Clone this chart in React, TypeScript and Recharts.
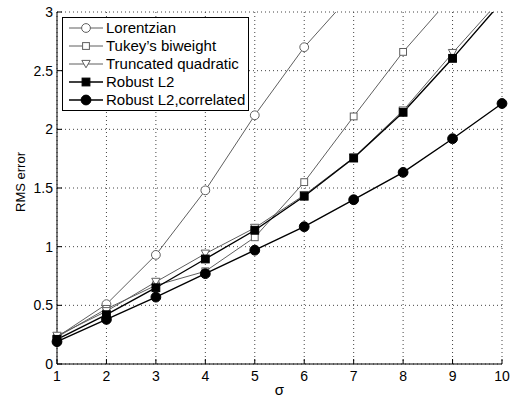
import React from 'react';
import { LineChart, Line, XAxis, YAxis, CartesianGrid, Legend } from 'recharts';

const sigma = [1, 2, 3, 4, 5, 6, 7, 8, 9, 10];
const lorentzian = [0.23, 0.51, 0.93, 1.48, 2.12, 2.7, 3.17, 3.65, 4.12, 4.6];
const tukey = [0.23, 0.47, 0.67, 0.79, 1.08, 1.55, 2.11, 2.66, 3.14, 3.62];
const truncated = [0.24, 0.45, 0.7, 0.94, 1.16, 1.44, 1.76, 2.16, 2.65, 3.12];
const robustL2 = [0.21, 0.42, 0.65, 0.895, 1.14, 1.43, 1.755, 2.145, 2.605, 3.09];
const correlated = [0.19, 0.38, 0.57, 0.77, 0.97, 1.17, 1.4, 1.633, 1.92, 2.22];
const yTicks = [0, 0.5, 1, 1.5, 2, 2.5, 3];

const GREY = '#5f5f5f';
const FONT = '"Liberation Sans", Arial, Helvetica, sans-serif';

type Shape = 'circleOpen' | 'squareOpen' | 'triangleDown' | 'squareFilled' | 'circleFilled';

const seriesDefs: { key: string; name: string; values: number[]; color: string; width: number; shape: Shape }[] = [
  { key: 'lorentzian', name: 'Lorentzian', values: lorentzian, color: GREY, width: 1, shape: 'circleOpen' },
  { key: 'tukey', name: 'Tukey\u2019s biweight', values: tukey, color: GREY, width: 1, shape: 'squareOpen' },
  { key: 'truncated', name: 'Truncated quadratic', values: truncated, color: GREY, width: 1, shape: 'triangleDown' },
  { key: 'robustL2', name: 'Robust L2', values: robustL2, color: '#000', width: 1.4, shape: 'squareFilled' },
  { key: 'correlated', name: 'Robust L2,correlated', values: correlated, color: '#000', width: 1.4, shape: 'circleFilled' },
];

const data = sigma.map((s, i) => {
  const row: Record<string, number> = { sigma: s };
  seriesDefs.forEach((d) => {
    row[d.key] = d.values[i];
  });
  return row;
});

function Marker({ shape, cx, cy, color }: { shape: Shape; cx: number; cy: number; color: string }) {
  if (cx == null || cy == null || isNaN(cx) || isNaN(cy)) return null;
  switch (shape) {
    case 'circleOpen':
      return <circle cx={cx} cy={cy} r={4.4} fill="#fff" stroke={color} strokeWidth={1} />;
    case 'squareOpen':
      return <rect x={cx - 3.4} y={cy - 3.4} width={6.8} height={6.8} fill="#fff" stroke={color} strokeWidth={1} />;
    case 'triangleDown':
      return (
        <polygon
          points={`${cx - 4.2},${cy - 3.6} ${cx + 4.2},${cy - 3.6} ${cx},${cy + 3.8}`}
          fill="#fff"
          stroke={color}
          strokeWidth={1}
        />
      );
    case 'squareFilled':
      return <rect x={cx - 3.9} y={cy - 3.9} width={7.8} height={7.8} fill="#000" stroke="#000" />;
    case 'circleFilled':
    default:
      return <circle cx={cx} cy={cy} r={4.9} fill="#000" stroke="#000" />;
  }
}

function LegendBox() {
  return (
    <div
      style={{
        border: '1px solid #000',
        background: '#fff',
        padding: '1px 3px 1px 6px',
        fontFamily: FONT,
        fontSize: 15,
        color: '#000',
        lineHeight: '18px',
        whiteSpace: 'nowrap',
      }}
    >
      {seriesDefs.map((d) => (
        <div key={d.key} style={{ display: 'flex', alignItems: 'center', height: 18 }}>
          <svg width={34} height={18} style={{ display: 'block' }}>
            <line x1={0} y1={9} x2={34} y2={9} stroke={d.color} strokeWidth={d.width} />
            <Marker shape={d.shape} cx={17} cy={9} color={d.color} />
          </svg>
          <span style={{ marginLeft: 3 }}>{d.name}</span>
        </div>
      ))}
    </div>
  );
}

export default function App() {
  return (
    <div style={{ position: 'absolute', left: 0, top: 0, width: 512, height: 402, background: '#fff' }}>
      <LineChart width={512} height={402} data={data} margin={{ top: 12, right: 10, left: 0, bottom: 0 }}>
        <CartesianGrid stroke="#444" strokeDasharray="1 3" strokeWidth={1} />
        <XAxis
          dataKey="sigma"
          type="number"
          domain={[1, 10]}
          ticks={sigma}
          interval={0}
          height={38}
          stroke="#000"
          tickSize={-5}
          tickMargin={12}
          tick={{ fill: '#000', fontSize: 14, fontFamily: FONT }}
          axisLine={{ stroke: '#000', strokeWidth: 1 }}
          label={() => (
            <text x={279.5} y={395} textAnchor="middle" fontFamily={FONT} fontSize={15} fill="#000">
              σ
            </text>
          )}
        />
        <YAxis
          type="number"
          domain={[0, 3]}
          ticks={yTicks}
          interval={0}
          allowDataOverflow
          width={57}
          stroke="#000"
          tickSize={-5}
          tickMargin={9}
          tick={{ fill: '#000', fontSize: 14, fontFamily: FONT }}
          axisLine={{ stroke: '#000', strokeWidth: 1 }}
          label={() => (
            <text
              x={25}
              y={182}
              transform="rotate(-90 25 182)"
              textAnchor="middle"
              fontFamily={FONT}
              fontSize={13}
              fill="#000"
            >
              RMS error
            </text>
          )}
        />
        <Legend
          layout="vertical"
          align="center"
          verticalAlign="middle"
          wrapperStyle={{ left: 62, top: 17, width: 'auto', height: 'auto' }}
          content={() => <LegendBox />}
        />
        {seriesDefs.map((d) => (
          <Line
            key={d.key}
            dataKey={d.key}
            name={d.name}
            type="linear"
            stroke={d.color}
            strokeWidth={d.width}
            isAnimationActive={false}
            dot={(p: any) => (
              <Marker key={`${d.key}-${p.index}`} shape={d.shape} cx={p.cx} cy={p.cy} color={d.color} />
            )}
            activeDot={false}
          />
        ))}
      </LineChart>
    </div>
  );
}
